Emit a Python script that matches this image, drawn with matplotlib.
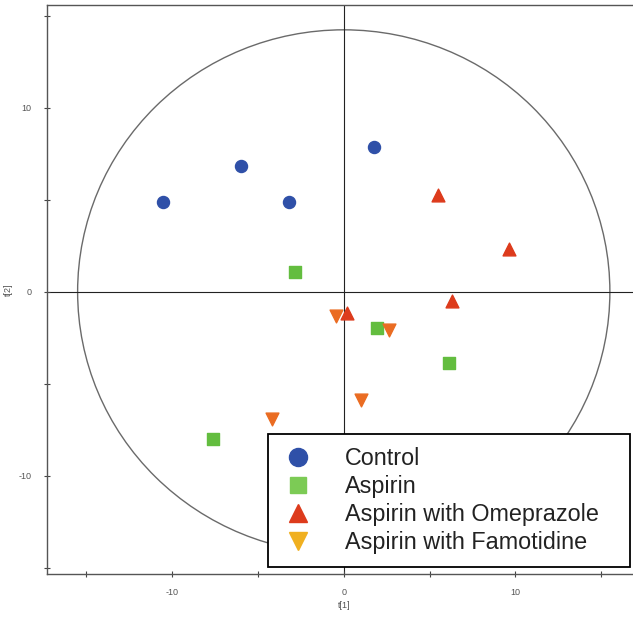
import matplotlib
matplotlib.use("Agg")
import matplotlib.pyplot as plt
from matplotlib.lines import Line2D
from matplotlib.patches import Ellipse

plt.rcParams["font.family"] = ["Liberation Sans", "DejaVu Sans"]
plt.rcParams["axes.unicode_minus"] = False

# score values, t[1] / t[2]
control_t1 = [-10.5, -6.0, -3.2, 1.75]
control_t2 = [4.9, 6.85, 4.9, 7.85]
aspirin_t1 = [-2.85, 1.95, 6.15, -7.6]
aspirin_t2 = [1.05, -1.95, -3.9, -8.0]
omep_t1 = [5.5, 9.6, 6.3, 0.2]
omep_t2 = [5.25, 2.35, -0.5, -1.15]
famo_t1 = [-0.45, 2.65, 1.0, -4.2]
famo_t2 = [-1.3, -2.1, -5.9, -6.9]

group_names = ["Control", "Aspirin", "Aspirin with Omeprazole", "Aspirin with Famotidine"]
ellipse_axes = (15.5, 14.25)  # T2 ellipse half-widths

fig = plt.figure(figsize=(6.33, 6.18), dpi=100)
ax = fig.add_axes([0.0738, 0.0712, 0.9385, 0.9207])

ax.add_patch(Ellipse((0, 0), 2 * ellipse_axes[0], 2 * ellipse_axes[1],
                     fill=False, edgecolor="#6a6a6a", linewidth=1.0, zorder=1))
ax.axhline(0, color="#222222", linewidth=0.8, zorder=1)
ax.axvline(0, color="#222222", linewidth=0.8, zorder=1)

ax.scatter(control_t1, control_t2, marker="o", s=75, color="#2f50a8", zorder=3)
ax.scatter(aspirin_t1, aspirin_t2, marker="s", s=65, color="#63bd3f", zorder=3)
ax.scatter(omep_t1, omep_t2, marker="^", s=85, color="#dd3b1c", zorder=3)
ax.scatter(famo_t1, famo_t2, marker="v", s=85, color="#ea6c22", zorder=3)

ax.set_xlim(-17.3, 17.3)
ax.set_ylim(-15.35, 15.6)
ax.set_xticks([-10, 0, 10])
ax.set_yticks([-10, 0, 10])
ax.set_xticks([-15, -5, 5, 15], minor=True)
ax.set_yticks([-15, -5, 5, 15], minor=True)
ax.tick_params(which="both", direction="inout", length=4, width=0.8,
               color="#444444", labelsize=6.5, labelcolor="#555555")
ax.tick_params(axis="x", pad=8)
ax.tick_params(axis="y", pad=9)
ax.set_xlabel("t[1]", fontsize=6.5, color="#555555", labelpad=3)
ax.set_ylabel("t[2]", fontsize=6.5, color="#555555", labelpad=4)
for side in ["top", "bottom", "left", "right"]:
    ax.spines[side].set_color("#555555")
    ax.spines[side].set_linewidth(1.0)

handles = [
    Line2D([], [], linestyle="none", marker="o", markersize=13, color="#2f50a8"),
    Line2D([], [], linestyle="none", marker="s", markersize=11, color="#7ccb55"),
    Line2D([], [], linestyle="none", marker="^", markersize=13, color="#dd3b1c"),
    Line2D([], [], linestyle="none", marker="v", markersize=13, color="#f0b020"),
]
leg = ax.legend(handles, group_names, loc="lower left", mode="expand",
                bbox_to_anchor=(0.4234, 0.0825, 0.5719, 0.2), bbox_transform=fig.transFigure,
                fontsize=16.8, frameon=True, fancybox=False, framealpha=1,
                edgecolor="black", handlelength=1.45, handletextpad=1.3,
                labelspacing=0.22, borderpad=0.55, borderaxespad=0)
leg.get_frame().set_linewidth(1.3)
for t in leg.get_texts():
    t.set_color("#222222")
leg.set_zorder(5)

fig.savefig("out.png", dpi=100)
